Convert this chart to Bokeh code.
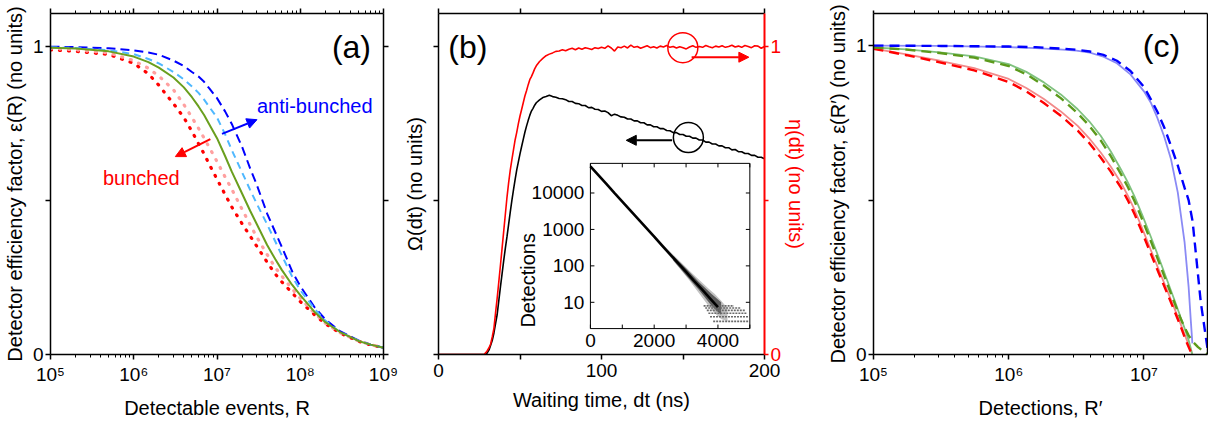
import math
from bokeh.plotting import figure
from bokeh.layouts import row
from bokeh.models import (Range1d, LinearAxis, LogAxis, FixedTicker, CustomJSTickFormatter,
                          Arrow, NormalHead, LogScale)
from bokeh.core.properties import value
from bokeh.embed import file_html
from bokeh.resources import INLINE

FONT = "Liberation Sans"
TICK_FS = "19px"
LABEL_FS = "20px"
PANEL_FS = "32px"

# ---------------- Panel (a) data ----------------
a_R = [1e5, 2e5, 5e5, 1e6, 1.5e6, 2e6, 3e6, 4e6, 5e6, 6e6, 7e6, 8e6, 1e7, 1.25e7, 1.5e7,
       2e7, 2.5e7, 3e7, 4e7, 5e7, 6e7, 8e7, 1e8, 1.5e8, 2e8, 3e8, 5e8, 7e8, 1e9]
a_green = [0.997, 0.994, 0.985, 0.968, 0.95, 0.932, 0.90, 0.868, 0.836, 0.806, 0.778, 0.75, 0.703,
           0.645, 0.595, 0.523, 0.467, 0.424, 0.356, 0.31, 0.275, 0.226, 0.193, 0.137, 0.105, 0.073,
           0.044, 0.032, 0.022]
a_blue = [1.0, 0.999, 0.995, 0.988, 0.981, 0.974, 0.955, 0.937, 0.918, 0.903, 0.886, 0.866, 0.833,
          0.79, 0.75, 0.675, 0.605, 0.552, 0.458, 0.398, 0.35, 0.27, 0.222, 0.152, 0.114, 0.076,
          0.046, 0.032, 0.022]
a_lblue = [0.998, 0.996, 0.989, 0.976, 0.96, 0.946, 0.918, 0.894, 0.871, 0.85, 0.828, 0.806, 0.77,
           0.716, 0.665, 0.592, 0.535, 0.49, 0.423, 0.368, 0.322, 0.253, 0.209, 0.147, 0.11, 0.073,
           0.045, 0.032, 0.022]
a_red = [0.99, 0.985, 0.975, 0.946, 0.912, 0.875, 0.815, 0.77, 0.725, 0.685, 0.652, 0.62, 0.57,
         0.52, 0.48, 0.425, 0.385, 0.352, 0.3, 0.262, 0.236, 0.2, 0.172, 0.128, 0.1, 0.07,
         0.043, 0.031, 0.022]
a_pink = [0.995, 0.99, 0.98, 0.955, 0.93, 0.905, 0.86, 0.812, 0.77, 0.735, 0.703, 0.675, 0.627,
          0.577, 0.538, 0.472, 0.422, 0.382, 0.325, 0.283, 0.255, 0.213, 0.183, 0.133, 0.102, 0.071,
          0.044, 0.032, 0.022]
a_xticks = [1e5, 1e6, 1e7, 1e8, 1e9]
a_ylim = [0, 1.108]
# annotations (a)
a_anti_arrow = [1.148e7, 0.717, 3.02e7, 0.763]
a_bunch_arrow = [8.32e6, 0.70, 3.16e6, 0.643]
a_anti_text = [3.02e7, 0.809, "anti-bunched"]
a_bunch_text = [4.27e5, 0.573, "bunched"]
a_panel = [2.4e8, 0.998, "(a)"]

# ---------------- Panel (b) data ----------------
b_dt = [0, 28] + list(range(29, 61)) + list(range(62, 201, 2))
b_eta = [0, 0, 0.006, 0.013, 0.022, 0.034, 0.058, 0.085, 0.135, 0.183, 0.236, 0.29, 0.345, 0.40,
         0.455, 0.51, 0.557, 0.598, 0.632, 0.665, 0.697, 0.722, 0.75, 0.775, 0.796, 0.818, 0.84,
         0.857, 0.876, 0.893, 0.903, 0.915, 0.928, 0.938,
         0.952, 0.962, 0.971, 0.976, 0.98, 0.985, 0.986, 0.99, 0.987, 0.992,
         0.995, 0.99, 0.996, 0.992, 0.997, 0.994, 0.991, 0.997, 0.994, 0.998,
         0.995, 1.003, 0.996, 0.986, 0.999, 0.997, 1.002, 0.996, 1.005, 0.998,
         1.001, 0.995, 0.999, 1.003, 0.997, 1.0, 0.996, 1.002, 0.999, 1.004,
         0.998, 1.001, 0.996, 1.0, 0.997, 0.993, 0.999, 1.003, 0.998, 1.001,
         0.998, 1.004, 1.0, 0.997, 1.002, 0.999, 1.003, 0.998, 1.001, 1.005,
         0.999, 1.002, 0.998, 1.004, 1.001, 0.997, 1.003, 1.002, 0.995, 1.001]
b_omega = [0, 0, 0.0, 0.006, 0.015, 0.03, 0.046, 0.07, 0.1, 0.13, 0.175, 0.22, 0.262, 0.305,
           0.345, 0.382, 0.422, 0.462, 0.5, 0.535, 0.568, 0.6, 0.626, 0.652, 0.676, 0.699, 0.722,
           0.742, 0.76, 0.777, 0.791, 0.8, 0.81, 0.818,
           0.827, 0.835, 0.838, 0.842, 0.838, 0.836, 0.832, 0.831, 0.828, 0.822,
           0.822, 0.816, 0.815, 0.809, 0.809, 0.802, 0.803, 0.797, 0.796, 0.79,
           0.791, 0.786, 0.776, 0.781, 0.777, 0.772, 0.771, 0.765, 0.765, 0.759,
           0.759, 0.753, 0.753, 0.746, 0.746, 0.74, 0.74, 0.734, 0.734, 0.728,
           0.727, 0.721, 0.721, 0.715, 0.715, 0.709, 0.709, 0.703, 0.703, 0.697,
           0.697, 0.69, 0.69, 0.684, 0.684, 0.678, 0.678, 0.672, 0.672, 0.665,
           0.666, 0.659, 0.659, 0.653, 0.653, 0.647, 0.647, 0.641, 0.641, 0.636]
b_xticks = [0, 50, 100, 150, 200]
b_ylim = [0, 1.108]
b_red_circle = [149.9, 0.997]
b_red_arrow = [155.3, 0.966, 190.4, 0.966]
b_black_circle = [153.3, 0.705]
b_black_arrow = [143.3, 0.696, 115.2, 0.696]
b_panel = [6.0, 1.0, "(b)"]

# inset of (b)
ins_xlim = [0, 5000]
ins_ylim = [1.9, 65000]
ins_t = [0, 250, 500, 750, 1000, 1250, 1500, 1750, 2000, 2250, 2500, 2750, 3000, 3250, 3500,
         3750, 4000]
ins_n = [53700, 30800, 17700, 10100, 5820, 3340, 1920, 1100, 631, 362, 208, 119, 68, 39, 22.5,
         12.9, 7.4]
ins_band_t = [2000, 2400, 2800, 3100, 3400, 3700, 3900, 4100, 4300]
ins_band_lo = [560, 225, 85, 40, 18, 8, 5, 3.5, 3]
ins_band_hi = [700, 300, 135, 75, 42, 24, 17, 11, 7]
ins_core_t = [2600, 3000, 3400, 3800, 4100]
ins_core_lo = [140, 55, 22, 8, 4.5]
ins_core_hi = [190, 85, 36, 17, 10]
ins_stripe_n = [3, 4, 5, 6, 7, 8]
ins_stripe_t0 = [3850, 3750, 3700, 3650, 3600, 3550]
ins_stripe_t1 = [4950, 4950, 4920, 4850, 4700, 4500]
ins_xticks = [0, 1000, 2000, 3000, 4000, 5000]
ins_xlabels = [0, 2000, 4000]
ins_yticks = [10, 100, 1000, 10000]
ins_ylabel_anchor = 40

# ---------------- Panel (c) data (log10 of R') ----------------
c_blue_logR = [5.0, 5.5, 6.0, 6.2, 6.4, 6.5, 6.6, 6.7, 6.8, 6.9, 7.0, 7.05, 7.1, 7.15, 7.2,
               7.25, 7.3, 7.33, 7.346, 7.358]
c_blue_solid = [1.0, 0.999, 0.995, 0.992, 0.987, 0.984, 0.977, 0.964, 0.943, 0.907, 0.852, 0.816,
                0.765, 0.705, 0.632, 0.525, 0.365, 0.22, 0.112, 0.036]
c_blue_dash_logR = [5.0, 5.5, 6.0, 6.2, 6.4, 6.5, 6.6, 6.7, 6.8, 6.9, 7.0, 7.05, 7.1, 7.15, 7.2,
                    7.25, 7.3, 7.33, 7.36, 7.383, 7.42, 7.457, 7.47]
c_blue_dash = [1.0, 0.999, 0.997, 0.995, 0.99, 0.987, 0.981, 0.97, 0.951, 0.918, 0.866, 0.827,
               0.785, 0.735, 0.675, 0.612, 0.54, 0.5, 0.43, 0.33, 0.17, 0.058, 0.02]
c_green_logR = [5.0, 5.245, 5.49, 5.745, 6.0, 6.13, 6.26, 6.385, 6.51, 6.595, 6.68, 6.755, 6.83,
                6.88, 6.93, 6.99, 7.05, 7.11, 7.17, 7.22, 7.27, 7.3, 7.33, 7.358]
c_green_solid = [0.994, 0.988, 0.978, 0.965, 0.94, 0.915, 0.881, 0.842, 0.794, 0.755, 0.708,
                 0.657, 0.599, 0.558, 0.512, 0.449, 0.382, 0.313, 0.242, 0.183, 0.122, 0.086,
                 0.047, 0.0]
c_green_dash_logR = [5.0, 5.245, 5.49, 5.745, 6.0, 6.13, 6.26, 6.385, 6.51, 6.595, 6.68, 6.755,
                     6.83, 6.88, 6.93, 6.99, 7.05, 7.11, 7.17, 7.22, 7.27, 7.3, 7.33, 7.36, 7.4,
                     7.44, 7.47]
c_green_dash = [0.994, 0.987, 0.976, 0.961, 0.934, 0.907, 0.871, 0.83, 0.781, 0.741, 0.693,
                0.642, 0.584, 0.543, 0.497, 0.434, 0.368, 0.3, 0.231, 0.174, 0.117, 0.088, 0.062,
                0.042, 0.024, 0.01, 0.0]
c_red_logR = [5.0, 5.245, 5.49, 5.745, 6.0, 6.13, 6.26, 6.385, 6.51, 6.595, 6.68, 6.755, 6.83,
              6.88, 6.93, 6.99, 7.05, 7.11, 7.17, 7.22, 7.27, 7.314, 7.358]
c_red_solid = [0.99, 0.972, 0.951, 0.927, 0.892, 0.863, 0.827, 0.787, 0.74, 0.70, 0.654, 0.608,
               0.556, 0.515, 0.469, 0.405, 0.339, 0.274, 0.209, 0.155, 0.10, 0.05, 0.0]
c_red_dash_logR = [5.0, 5.245, 5.49, 5.745, 6.0, 6.13, 6.26, 6.385, 6.51, 6.595, 6.68, 6.755,
                   6.83, 6.88, 6.93, 6.99, 7.05, 7.11, 7.17, 7.22, 7.27, 7.31, 7.35]
c_red_dash = [0.99, 0.969, 0.946, 0.92, 0.882, 0.852, 0.814, 0.773, 0.725, 0.685, 0.638, 0.592,
              0.54, 0.5, 0.455, 0.392, 0.327, 0.263, 0.2, 0.147, 0.093, 0.045, 0.005]
c_xlim = [1e5, 2.95e7]
c_xticks = [1e5, 1e6, 1e7]
c_ylim = [0, 1.104]
c_panel = [9.8e6, 1.0, "(c)"]

y_ticks = [0, 0.5, 1]

# ---------------- helpers ----------------
SUP_JS = """
const sup = {"0":"\u2070","1":"\u00b9","2":"\u00b2","3":"\u00b3","4":"\u2074",
             "5":"\u2075","6":"\u2076","7":"\u2077","8":"\u2078","9":"\u2079"};
const e = Math.round(Math.log10(tick));
return "10" + String(e).split("").map(c => sup[c]).join("");
"""

BORDER_TOP = 13
BORDER_BOTTOM = 70


def pow10(vals):
    return [10 ** v for v in vals]


def log_minors(lo_exp, hi_exp, limit):
    out = []
    for d in range(lo_exp, hi_exp):
        for k in range(2, 10):
            v = k * 10 ** d
            if v <= limit:
                out.append(v)
    return out


def style_axis(ax, color="black", show_labels=True, tick_out=5, bottom=False):
    ax.axis_line_color = color
    ax.axis_line_width = 1.5
    ax.major_tick_line_color = color
    ax.major_tick_line_width = 1.5
    ax.minor_tick_line_color = color
    ax.minor_tick_line_width = 1
    ax.major_tick_out = tick_out
    ax.major_tick_in = 0
    ax.minor_tick_out = 3 if tick_out > 0 else 0
    ax.minor_tick_in = 0
    ax.major_label_text_font = FONT
    ax.major_label_text_font_size = TICK_FS
    ax.major_label_text_color = color
    ax.major_label_standoff = 4 if bottom else 2
    ax.axis_label_text_font = FONT
    ax.axis_label_text_font_size = LABEL_FS
    ax.axis_label_text_font_style = "normal"
    ax.axis_label_text_color = color
    ax.axis_label_standoff = 9 if bottom else 4
    if not show_labels:
        ax.formatter = CustomJSTickFormatter(code="return '';")
        ax.major_label_text_font_size = "0px"
        ax.major_label_standoff = 0


def make_fig(width, xr, yr, xlog, bl, br):
    p = figure(width=width, height=424, x_range=xr, y_range=yr,
               x_axis_type="log" if xlog else "linear",
               toolbar_location=None, output_backend="svg",
               min_border_left=bl, min_border_right=br,
               min_border_top=BORDER_TOP, min_border_bottom=BORDER_BOTTOM)
    p.xgrid.visible = False
    p.ygrid.visible = False
    p.outline_line_color = None
    p.background_fill_color = "white"
    p.border_fill_color = "white"
    return p


def add_text(p, x, y, txt, color="black", size="20px", align="left", **kw):
    p.text(x=[x], y=[y], text=[txt], text_font=value(FONT), text_font_size=size,
           text_color=color, text_align=align, text_baseline="middle", **kw)


def add_arrow(p, coords, color):
    p.add_layout(Arrow(end=NormalHead(size=10, fill_color=color, line_color=color),
                       x_start=coords[0], y_start=coords[1], x_end=coords[2], y_end=coords[3],
                       line_color=color, line_width=2))


# ---------------- Panel (a) ----------------
pa = make_fig(400, Range1d(a_xticks[0], a_xticks[-1]), Range1d(*a_ylim), True, 50, 17)
a_tick = FixedTicker(ticks=a_xticks, minor_ticks=log_minors(5, 9, 1e9))
yt = FixedTicker(ticks=y_ticks)
xa = pa.xaxis[0]
xa.ticker = a_tick
xa.formatter = CustomJSTickFormatter(code=SUP_JS)
style_axis(xa, bottom=True)
xa.axis_label = "Detectable events, R"
ya = pa.yaxis[0]
ya.ticker = yt
style_axis(ya)
ya.major_label_overrides = {0.5: ""}
ya.axis_label = "Detector efficiency factor, \u03b5(R) (no units)"
top_a = LogAxis(ticker=a_tick)
style_axis(top_a, show_labels=False)
pa.add_layout(top_a, "above")
right_a = LinearAxis(ticker=yt)
style_axis(right_a, show_labels=False)
pa.add_layout(right_a, "right")

pa.line(a_R, a_red, line_color="#ff0000", line_width=3.2, line_dash="1 8", line_cap="round")
pa.line(a_R, a_pink, line_color="#ffa0a0", line_width=3.2, line_dash="1 8", line_cap="round")
pa.line(a_R, a_blue, line_color="#0000ff", line_width=2, line_dash="9 5")
pa.line(a_R, a_lblue, line_color="#4fb8ff", line_width=2, line_dash="7 5")
pa.line(a_R, a_green, line_color="#6a9f1e", line_width=2)
add_arrow(pa, a_anti_arrow, "#0000ff")
add_arrow(pa, a_bunch_arrow, "#ff0000")
add_text(pa, a_anti_text[0], a_anti_text[1], a_anti_text[2], color="#0000ff")
add_text(pa, a_bunch_text[0], a_bunch_text[1], a_bunch_text[2], color="#ff0000")
add_text(pa, a_panel[0], a_panel[1], a_panel[2], size=PANEL_FS)

# ---------------- Panel (b) ----------------
pb = make_fig(410, Range1d(b_xticks[0], b_xticks[-1]), Range1d(*b_ylim), False, 37, 41)
bt = FixedTicker(ticks=b_xticks)
xb = pb.xaxis[0]
xb.ticker = bt
style_axis(xb, bottom=True)
xb.major_label_overrides = {50: "", 150: ""}
xb.axis_label = "Waiting time, dt (ns)"
yb = pb.yaxis[0]
yb.ticker = yt
style_axis(yb, show_labels=False)
yb.axis_label = "\u03a9(dt) (no units)"
yb.axis_label_standoff = 8
top_b = LinearAxis(ticker=bt)
style_axis(top_b, show_labels=False)
pb.add_layout(top_b, "above")
right_b = LinearAxis(ticker=yt)
style_axis(right_b, color="#ff0000", tick_out=4)
right_b.axis_line_width = 2
right_b.major_label_overrides = {0.5: ""}
right_b.axis_label = "\u03b7(dt) (no units)"
right_b.axis_label_standoff = 1
pb.add_layout(right_b, "right")

pb.line(b_dt, b_omega, line_color="black", line_width=1.6)
pb.line(b_dt, b_eta, line_color="#ff0000", line_width=1.6)
pb.scatter([b_red_circle[0]], [b_red_circle[1]], size=30, marker="circle", fill_color=None,
           line_color="#ff0000", line_width=1.5)
pb.scatter([b_black_circle[0]], [b_black_circle[1]], size=30, marker="circle", fill_color=None,
           line_color="black", line_width=1.5)
add_arrow(pb, b_red_arrow, "#ff0000")
add_arrow(pb, b_black_arrow, "black")
add_text(pb, b_panel[0], b_panel[1], b_panel[2], size=PANEL_FS)

# inset placement (fractions of the (b) frame)
fx0, fx1 = 0.466, 0.955
fy0, fy1 = 0.076, 0.5605
xspan = ins_xlim[1] - ins_xlim[0]
ix0 = ins_xlim[0] - fx0 / (fx1 - fx0) * xspan
ix1 = ins_xlim[1] + (1 - fx1) / (fx1 - fx0) * xspan
L0, L1 = math.log10(ins_ylim[0]), math.log10(ins_ylim[1])
lspan = L1 - L0
iy0 = 10 ** (L0 - fy0 / (fy1 - fy0) * lspan)
iy1 = 10 ** (L1 + (1 - fy1) / (fy1 - fy0) * lspan)
pb.extra_x_ranges = {"ix": Range1d(ix0, ix1)}
pb.extra_y_ranges = {"iy": Range1d(iy0, iy1)}
pb.extra_y_scales = {"iy": LogScale()}
IR = dict(x_range_name="ix", y_range_name="iy")

pb.quad(left=[ins_xlim[0]], right=[ins_xlim[1]], bottom=[ins_ylim[0]], top=[ins_ylim[1]],
        fill_color="white", line_color="black", line_width=1, **IR)
pb.varea(x=ins_band_t, y1=ins_band_lo, y2=ins_band_hi, fill_color="#9a9a9a", fill_alpha=0.6, **IR)
pb.varea(x=ins_core_t, y1=ins_core_lo, y2=ins_core_hi, fill_color="#303030", fill_alpha=0.7, **IR)
pb.segment(x0=ins_stripe_t0, y0=ins_stripe_n, x1=ins_stripe_t1, y1=ins_stripe_n,
           line_color="#6a6a6a", line_width=1.6, line_dash="2 1", **IR)
pb.line(ins_t, ins_n, line_color="black", line_width=2.6, **IR)
n_y = len(ins_yticks)
n_x = len(ins_xticks)
pb.ray(x=[ins_xlim[0]] * n_y, y=ins_yticks, length=4, length_units="screen", angle=0,
       line_color="black", line_width=1, **IR)
pb.ray(x=[ins_xlim[1]] * n_y, y=ins_yticks, length=4, length_units="screen", angle=math.pi,
       line_color="black", line_width=1, **IR)
pb.ray(x=ins_xticks, y=[ins_ylim[0]] * n_x, length=4, length_units="screen", angle=math.pi / 2,
       line_color="black", line_width=1, **IR)
pb.ray(x=ins_xticks, y=[ins_ylim[1]] * n_x, length=4, length_units="screen", angle=-math.pi / 2,
       line_color="black", line_width=1, **IR)
pb.text(x=ins_xlabels, y=[ins_ylim[0]] * len(ins_xlabels), text=[str(v) for v in ins_xlabels],
        y_offset=5, text_font=value(FONT), text_font_size=TICK_FS, text_align="center",
        text_baseline="top", **IR)
pb.text(x=[ins_xlim[0]] * n_y, y=ins_yticks, text=[str(v) for v in ins_yticks], x_offset=-6,
        text_font=value(FONT), text_font_size=TICK_FS, text_align="right",
        text_baseline="middle", **IR)
pb.text(x=[ins_xlim[0]], y=[ins_ylabel_anchor], text=["Detections"], x_offset=-62,
        angle=math.pi / 2, text_font=value(FONT), text_font_size=LABEL_FS, text_align="center",
        text_baseline="middle", **IR)

# ---------------- Panel (c) ----------------
pc = make_fig(398, Range1d(*c_xlim), Range1d(*c_ylim), True, 63, 1)
c_tick = FixedTicker(ticks=c_xticks, minor_ticks=log_minors(5, 8, c_xlim[1]))
xc = pc.xaxis[0]
xc.ticker = c_tick
xc.formatter = CustomJSTickFormatter(code=SUP_JS)
style_axis(xc, bottom=True)
xc.axis_label = "Detections, R\u2032"
yc = pc.yaxis[0]
yc.ticker = yt
style_axis(yc)
yc.major_label_overrides = {0.5: ""}
yc.axis_label = "Detector efficiency factor, \u03b5(R\u2032) (no units)"
top_c = LogAxis(ticker=c_tick)
style_axis(top_c, show_labels=False, tick_out=3)
pc.add_layout(top_c, "above")
right_c = LinearAxis(ticker=yt)
style_axis(right_c, show_labels=False, tick_out=0)
pc.add_layout(right_c, "right")

pc.line(pow10(c_red_logR), c_red_solid, line_color="#f28a8a", line_width=1.8)
pc.line(pow10(c_green_logR), c_green_solid, line_color="#7fc27f", line_width=1.8)
pc.line(pow10(c_blue_logR), c_blue_solid, line_color="#8a8af5", line_width=1.8)
pc.line(pow10(c_red_dash_logR), c_red_dash, line_color="#ff0000", line_width=2.4,
        line_dash="10 6")
pc.line(pow10(c_green_dash_logR), c_green_dash, line_color="#5c9a1c", line_width=2.4,
        line_dash="10 6")
pc.line(pow10(c_blue_dash_logR), c_blue_dash, line_color="#0000ff", line_width=2.4,
        line_dash="10 6")
add_text(pc, c_panel[0], c_panel[1], c_panel[2], size=PANEL_FS)

layout = row(pa, pb, pc)
open("out.html", "w", encoding="utf-8").write(file_html(layout, INLINE))
